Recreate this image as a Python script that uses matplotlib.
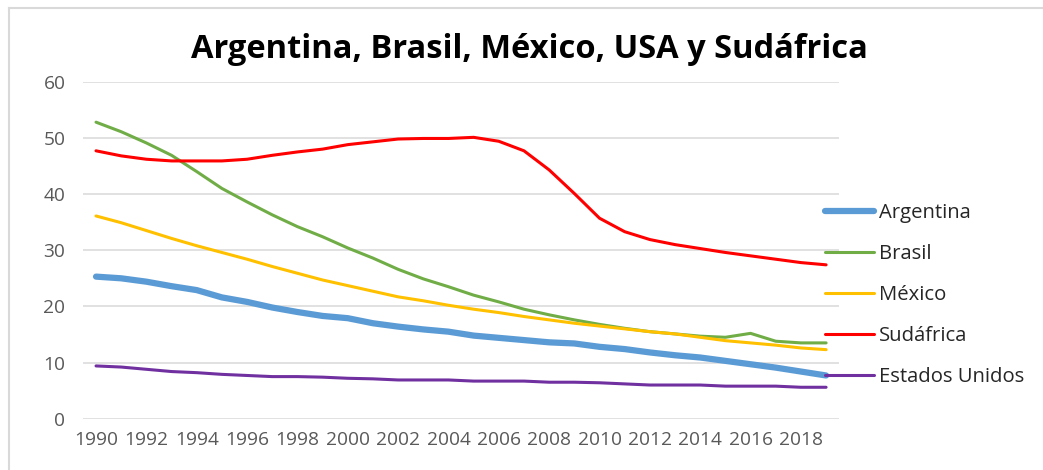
import matplotlib.pyplot as plt
from matplotlib.lines import Line2D

# ----------------------------------------------------------------
# Data
# ----------------------------------------------------------------
years = list(range(1990, 2020))

argentina = [25.3, 25.0, 24.4, 23.6, 22.9, 21.6, 20.8, 19.8, 19.0, 18.3,
             17.9, 17.0, 16.4, 15.9, 15.5, 14.8, 14.4, 14.0, 13.6, 13.4,
             12.8, 12.4, 11.8, 11.3, 10.9, 10.3, 9.7, 9.1, 8.4, 7.7]
brasil = [52.8, 51.1, 49.1, 46.9, 44.0, 41.0, 38.6, 36.3, 34.2, 32.4,
          30.4, 28.6, 26.6, 24.9, 23.5, 22.0, 20.8, 19.5, 18.5, 17.6,
          16.8, 16.1, 15.5, 15.1, 14.7, 14.5, 15.2, 13.8, 13.5, 13.5]
mexico = [36.1, 34.9, 33.5, 32.1, 30.8, 29.6, 28.4, 27.1, 25.9, 24.7,
          23.7, 22.7, 21.7, 21.0, 20.2, 19.5, 18.9, 18.2, 17.6, 17.0,
          16.5, 16.0, 15.5, 15.1, 14.5, 13.9, 13.5, 13.1, 12.6, 12.3]
sudafrica = [47.7, 46.8, 46.2, 45.9, 45.9, 45.9, 46.2, 46.9, 47.5, 48.0,
             48.8, 49.3, 49.8, 49.9, 49.9, 50.1, 49.4, 47.7, 44.3, 40.1,
             35.7, 33.3, 31.9, 31.0, 30.3, 29.6, 29.0, 28.4, 27.8, 27.4]
usa = [9.4, 9.2, 8.8, 8.4, 8.2, 7.9, 7.7, 7.5, 7.5, 7.4,
       7.2, 7.1, 6.9, 6.9, 6.9, 6.7, 6.7, 6.7, 6.5, 6.5,
       6.4, 6.2, 6.0, 6.0, 6.0, 5.8, 5.8, 5.8, 5.6, 5.6]

series_names = ["Argentina", "Brasil", "México", "Sudáfrica", "Estados Unidos"]
title = "Argentina, Brasil, México, USA y Sudáfrica"

# ----------------------------------------------------------------
# Styles
# ----------------------------------------------------------------
colors = ["#5B9BD5", "#70AD47", "#FFC000", "#FF0000", "#7030A0"]
widths = [4.5, 2.2, 2.2, 2.2, 2.2]

plt.rcParams['font.family'] = ['Open Sans', 'DejaVu Sans']

fig = plt.figure(figsize=(10.43, 4.70), dpi=100)
ax = fig.add_axes([0.0800, 0.1091, 0.7241, 0.7170])

all_series = [argentina, brasil, mexico, sudafrica, usa]
for vals, name, c, lw in zip(all_series, series_names, colors, widths):
    ax.plot(years, vals, color=c, linewidth=lw, label=name,
            solid_capstyle='round', solid_joinstyle='round')

ax.set_xlim(1989.5, 2019.5)
ax.set_ylim(0, 60)
ax.set_yticks(range(0, 61, 10))
ax.set_xticks(years[::2])
ax.grid(axis='y', color='#D9D9D9', linewidth=1.1)
ax.set_axisbelow(True)
for sp in ax.spines.values():
    sp.set_visible(False)
ax.tick_params(axis='both', length=0, labelsize=13.8, labelcolor='#595959')
ax.tick_params(axis='y', pad=13)
ax.tick_params(axis='x', pad=9)

fig.text(0.508, 0.895, title, ha='center', va='center',
         fontsize=23.5, fontweight='bold', color='black')

# --- Legend on the right ---
handles = [Line2D([], [], color=c, linewidth=lw, solid_capstyle='round')
           for c, lw in zip(colors, widths)]
fig.legend(handles, series_names, loc='center left',
           bbox_to_anchor=(825 / 1043, 1 - 295 / 470),
           frameon=False, fontsize=14.6, handlelength=2.4, handletextpad=0.25,
           labelspacing=1.04, borderpad=0, borderaxespad=0,
           labelcolor='#262626')

# --- Chart border ---
fig.add_artist(Line2D([9 / 1043, 1], [1 - 8 / 470, 1 - 8 / 470],
                      color='#D9D9D9', linewidth=1.5))
fig.add_artist(Line2D([9 / 1043, 9 / 1043], [0, 1 - 8 / 470],
                      color='#D9D9D9', linewidth=1.5))

fig.savefig("out.png", dpi=100)
plt.close(fig)
